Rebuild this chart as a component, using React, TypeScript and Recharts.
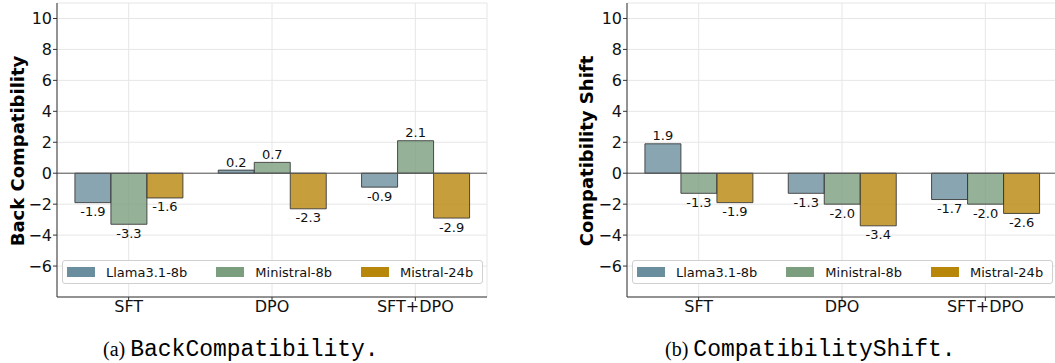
import { BarChart, Bar, XAxis, YAxis, CartesianGrid, ReferenceLine, Legend, LabelList } from 'recharts'

const methods = ['SFT', 'DPO', 'SFT+DPO']
const models = ['Llama3.1-8b', 'Ministral-8b', 'Mistral-24b']
const modelColors = ['#6b8e9e', '#7a9e7e', '#b8860b']

// (a) BackCompatibility
const backLlama = [-1.9, 0.2, -0.9]
const backMinistral = [-3.3, 0.7, 2.1]
const backMistral = [-1.6, -2.3, -2.9]

// (b) CompatibilityShift
const shiftLlama = [1.9, -1.3, -1.7]
const shiftMinistral = [-1.3, -2.0, -2.0]
const shiftMistral = [-1.9, -3.4, -2.6]

const yTicks = [-6, -4, -2, 0, 2, 4, 6, 8, 10]
const yDomain = [-8, 11]

const FONT = '"DejaVu Sans", sans-serif'

const toRows = (a: number[], b: number[], c: number[]) =>
  methods.map((m, i) => ({ method: m, m0: a[i], m1: b[i], m2: c[i] }))

const fmtTick = (v: number) => (v < 0 ? '\u2212' + Math.abs(v) : String(v))

const ValueLabel = (props: any) => {
  const { x, y, width, height, value } = props
  const top = Math.min(y, y + height)
  const bottom = Math.max(y, y + height)
  const ty = value >= 0 ? top - 8 : bottom + 9
  return (
    <text x={x + width / 2} y={ty} textAnchor="middle" dominantBaseline="central"
      fontSize={13} fontFamily={FONT} fill="#111">
      {value.toFixed(1)}
    </text>
  )
}

const renderLegend = () => (
  <div style={{
    boxSizing: 'border-box', height: 24, border: '1px solid #d0d0d0', borderRadius: 3,
    background: 'rgba(255,255,255,0.85)', display: 'flex', alignItems: 'center',
    paddingLeft: 4, gap: 29, fontFamily: FONT, fontSize: 13, color: '#111'
  }}>
    {models.map((m, i) => (
      <div key={m} style={{ display: 'flex', alignItems: 'center' }}>
        <span style={{ width: 28, height: 10, background: modelColors[i], marginRight: 11, display: 'inline-block' }} />
        <span>{m}</span>
      </div>
    ))}
  </div>
)

function Panel({ data, yLabel, left, labelX, caption, captionLeft }: any) {
  return (
    <>
      <div style={{
        position: 'absolute', left: labelX - 120, top: 151 - 11, width: 240, height: 22,
        transform: 'rotate(-90deg)', textAlign: 'center', fontFamily: FONT, fontWeight: 'bold',
        fontSize: 18, lineHeight: '22px', color: '#000'
      }}>{yLabel}</div>
      <div style={{ position: 'absolute', left, top: 0 }}>
        <BarChart width={488} height={320} data={data}
          margin={{ top: 3, right: 1, bottom: 0, left: 0 }}
          barCategoryGap="12.5%" barGap={0}>
          <CartesianGrid stroke="#e6e6e6" />
          <XAxis dataKey="method" height={23} tickSize={4} tickMargin={0}
            tick={{ fontSize: 16, fontFamily: FONT, fill: '#111' }}
            axisLine={{ stroke: '#333' }} tickLine={{ stroke: '#333' }} />
          <XAxis xAxisId="top" orientation="top" dataKey="method" height={0}
            tick={false} tickLine={false} axisLine={{ stroke: '#333' }} />
          <YAxis width={57} domain={yDomain} ticks={yTicks} type="number" allowDataOverflow
            tickFormatter={fmtTick} tickSize={4} tickMargin={1}
            tick={{ fontSize: 16, fontFamily: FONT, fill: '#111' }}
            axisLine={{ stroke: '#333' }} tickLine={{ stroke: '#333' }} />
          <YAxis yAxisId="right" orientation="right" width={0} domain={yDomain} type="number"
            tick={false} tickLine={false} axisLine={{ stroke: '#333' }} />
          <ReferenceLine y={0} stroke="#555" strokeWidth={1} />
          {['m0', 'm1', 'm2'].map((k, i) => (
            <Bar key={k} dataKey={k} name={models[i]} fill={modelColors[i]} fillOpacity={0.8}
              stroke="#333" strokeOpacity={0.85} strokeWidth={1} isAnimationActive={false}>
              <LabelList dataKey={k} content={ValueLabel} />
            </Bar>
          ))}
          <Legend content={renderLegend} layout="horizontal" verticalAlign="middle" align="center"
            wrapperStyle={{ left: 62, top: 260, width: 421 }} />
        </BarChart>
      </div>
      <div style={{
        position: 'absolute', left: captionLeft, top: 337, whiteSpace: 'nowrap',
        display: 'flex', alignItems: 'baseline', color: '#000'
      }}>
        <span style={{ fontFamily: '"Liberation Serif", serif', fontSize: 20, marginRight: 5 }}>{caption[0]}</span>
        <span style={{ fontFamily: '"Liberation Mono", monospace', fontSize: 23 }}>{caption[1]}</span>
      </div>
    </>
  )
}

export default function App() {
  const backData = toRows(backLlama, backMinistral, backMistral)
  const shiftData = toRows(shiftLlama, shiftMinistral, shiftMistral)
  return (
    <div style={{ position: 'absolute', left: 0, top: 0, width: 1055, height: 363, overflow: 'hidden', background: '#fff' }}>
      <Panel data={backData} yLabel="Back Compatibility" left={0} labelX={18}
        caption={['(a)', 'BackCompatibility.']} captionLeft={103} />
      <Panel data={shiftData} yLabel="Compatibility Shift" left={570} labelX={587}
        caption={['(b)', 'CompatibilityShift.']} captionLeft={665} />
    </div>
  )
}
